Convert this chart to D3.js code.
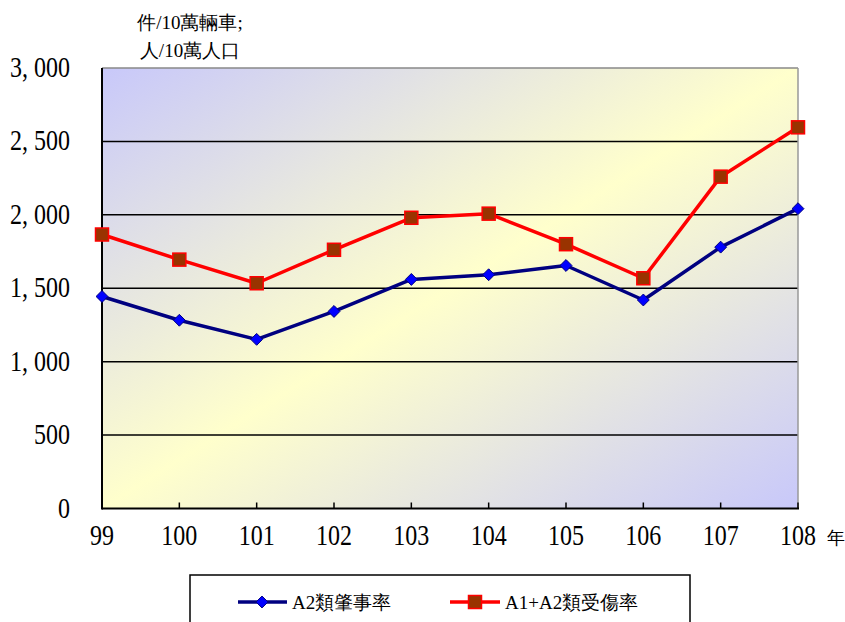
<!DOCTYPE html>
<html>
<head>
<meta charset="utf-8">
<script src="https://cdn.jsdelivr.net/npm/d3@7"></script>
<style>
  body { margin: 0; background: #fff; }
  svg { display: block; }
  svg text { font-family: "Liberation Serif", "Times New Roman", "DejaVu Serif", serif; fill: #000; }
</style>
</head>
<body>
<div id="chart"></div>
<script>
const years = [99, 100, 101, 102, 103, 104, 105, 106, 107, 108];
const a2Rate = [1444, 1282, 1152, 1342, 1560, 1592, 1655, 1420, 1780, 2042];
const injuryRate = [1866, 1695, 1534, 1762, 1980, 2008, 1800, 1568, 2260, 2596];
const yTicks = [0, 500, 1000, 1500, 2000, 2500, 3000];
const seriesNames = ['A2類肇事率', 'A1+A2類受傷率'];

const W = 845, H = 622;
const M = { left: 102, right: 798, top: 68, bottom: 508.5 };
// the original tick font is narrow and tall, so stretch the digits a bit
const STRETCH = 1.2;

const svg = d3.select('#chart').append('svg')
  .attr('width', W).attr('height', H);

const x = d3.scalePoint().domain(years).range([M.left, M.right]);
const y = d3.scaleLinear().domain([0, 3000]).range([M.bottom, M.top]);

// diagonal blue -> yellow -> blue background (band runs bottom-left to top-right)
const defs = svg.append('defs');
const grad = defs.append('linearGradient')
  .attr('id', 'bg')
  .attr('x1', 0).attr('y1', 0).attr('x2', 1).attr('y2', 1);
grad.append('stop').attr('offset', '0%').attr('stop-color', '#c8c8fa');
grad.append('stop').attr('offset', '50%').attr('stop-color', '#ffffcc');
grad.append('stop').attr('offset', '100%').attr('stop-color', '#c8c8fa');

svg.append('rect')
  .attr('x', M.left).attr('y', M.top)
  .attr('width', M.right - M.left).attr('height', M.bottom - M.top)
  .attr('fill', 'url(#bg)');

// gridlines
svg.append('g').selectAll('line')
  .data(yTicks.filter((d) => d > 0 && d < 3000))
  .join('line')
  .attr('x1', M.left).attr('x2', M.right)
  .attr('y1', (d) => y(d)).attr('y2', (d) => y(d))
  .attr('stroke', '#000').attr('stroke-width', 1.5);

// frame: top and right grey, left and bottom black
svg.append('line').attr('x1', M.left).attr('x2', M.right)
  .attr('y1', M.top).attr('y2', M.top)
  .attr('stroke', '#888').attr('stroke-width', 1.5);
svg.append('line').attr('x1', M.right).attr('x2', M.right)
  .attr('y1', M.top).attr('y2', M.bottom)
  .attr('stroke', '#999').attr('stroke-width', 1.5);
svg.append('line').attr('x1', M.left).attr('x2', M.left)
  .attr('y1', M.top).attr('y2', M.bottom + 1)
  .attr('stroke', '#000').attr('stroke-width', 2);
svg.append('line').attr('x1', M.left).attr('x2', M.right + 1)
  .attr('y1', M.bottom).attr('y2', M.bottom)
  .attr('stroke', '#000').attr('stroke-width', 2);

// x ticks (inside, pointing up)
svg.append('g').selectAll('line')
  .data(years.slice(1))
  .join('line')
  .attr('x1', (d) => x(d)).attr('x2', (d) => x(d))
  .attr('y1', M.bottom).attr('y2', M.bottom - 6)
  .attr('stroke', '#000').attr('stroke-width', 1.5);

// y labels
const fmt = (d) => d >= 1000 ? d3.format(',')(d).replace(',', ', ') : String(d);
svg.append('g').selectAll('text')
  .data(yTicks)
  .join('text')
  .attr('transform', (d) => `translate(70,${y(d) + 9}) scale(1,${STRETCH})`)
  .attr('text-anchor', 'end')
  .style('font-size', '24px')
  .text(fmt);

// x labels
svg.append('g').selectAll('text')
  .data(years)
  .join('text')
  .attr('transform', (d) => `translate(${x(d)},545) scale(1,${STRETCH})`)
  .attr('text-anchor', 'middle')
  .style('font-size', '24px')
  .text((d) => d);

svg.append('text')
  .attr('x', 836).attr('y', 544)
  .attr('text-anchor', 'middle').style('font-size', '18px')
  .text('年');

// axis title
svg.append('text')
  .attr('x', 190).attr('y', 29)
  .attr('text-anchor', 'middle').style('font-size', '19px')
  .text('件/10萬輛車;');
svg.append('text')
  .attr('x', 190).attr('y', 57)
  .attr('text-anchor', 'middle').style('font-size', '19px')
  .text('人/10萬人口');

const line = d3.line().x((d, i) => x(years[i])).y((d) => y(d));
const diamond = d3.symbol().type(d3.symbolDiamond2).size(90);

// injury rate (red, squares)
svg.append('path').datum(injuryRate)
  .attr('d', line).attr('fill', 'none')
  .attr('stroke', '#ff0000').attr('stroke-width', 3.5)
  .attr('stroke-linejoin', 'round');
svg.append('g').selectAll('rect')
  .data(injuryRate)
  .join('rect')
  .attr('x', (d, i) => x(years[i]) - 6.5).attr('y', (d) => y(d) - 6.5)
  .attr('width', 13).attr('height', 13)
  .attr('fill', '#993300').attr('stroke', '#ff0000').attr('stroke-width', 1.5);

// A2 rate (navy line, blue diamonds)
svg.append('path').datum(a2Rate)
  .attr('d', line).attr('fill', 'none')
  .attr('stroke', '#000080').attr('stroke-width', 3.5)
  .attr('stroke-linejoin', 'round');
svg.append('g').selectAll('path')
  .data(a2Rate)
  .join('path')
  .attr('d', diamond)
  .attr('transform', (d, i) => `translate(${x(years[i])},${y(d)})`)
  .attr('fill', '#0000ff').attr('stroke', '#000080').attr('stroke-width', 1);

// legend
const lg = svg.append('g');
lg.append('rect')
  .attr('x', 190).attr('y', 575).attr('width', 500).attr('height', 60)
  .attr('fill', '#fff').attr('stroke', '#000').attr('stroke-width', 1.5);

const ly = 602;
lg.append('line').attr('x1', 238).attr('x2', 287).attr('y1', ly).attr('y2', ly)
  .attr('stroke', '#000080').attr('stroke-width', 3.5);
lg.append('path').attr('d', diamond)
  .attr('transform', `translate(262,${ly})`)
  .attr('fill', '#0000ff').attr('stroke', '#000080').attr('stroke-width', 1);
lg.append('text')
  .attr('x', 292).attr('y', ly + 7).style('font-size', '19px')
  .text(seriesNames[0]);

lg.append('line').attr('x1', 450).attr('x2', 500).attr('y1', ly).attr('y2', ly)
  .attr('stroke', '#ff0000').attr('stroke-width', 3.5);
lg.append('rect')
  .attr('x', 475 - 6.5).attr('y', ly - 6.5).attr('width', 13).attr('height', 13)
  .attr('fill', '#993300').attr('stroke', '#ff0000').attr('stroke-width', 1.5);
lg.append('text')
  .attr('x', 505).attr('y', ly + 7).style('font-size', '19px')
  .text(seriesNames[1]);
</script>
</body>
</html>
